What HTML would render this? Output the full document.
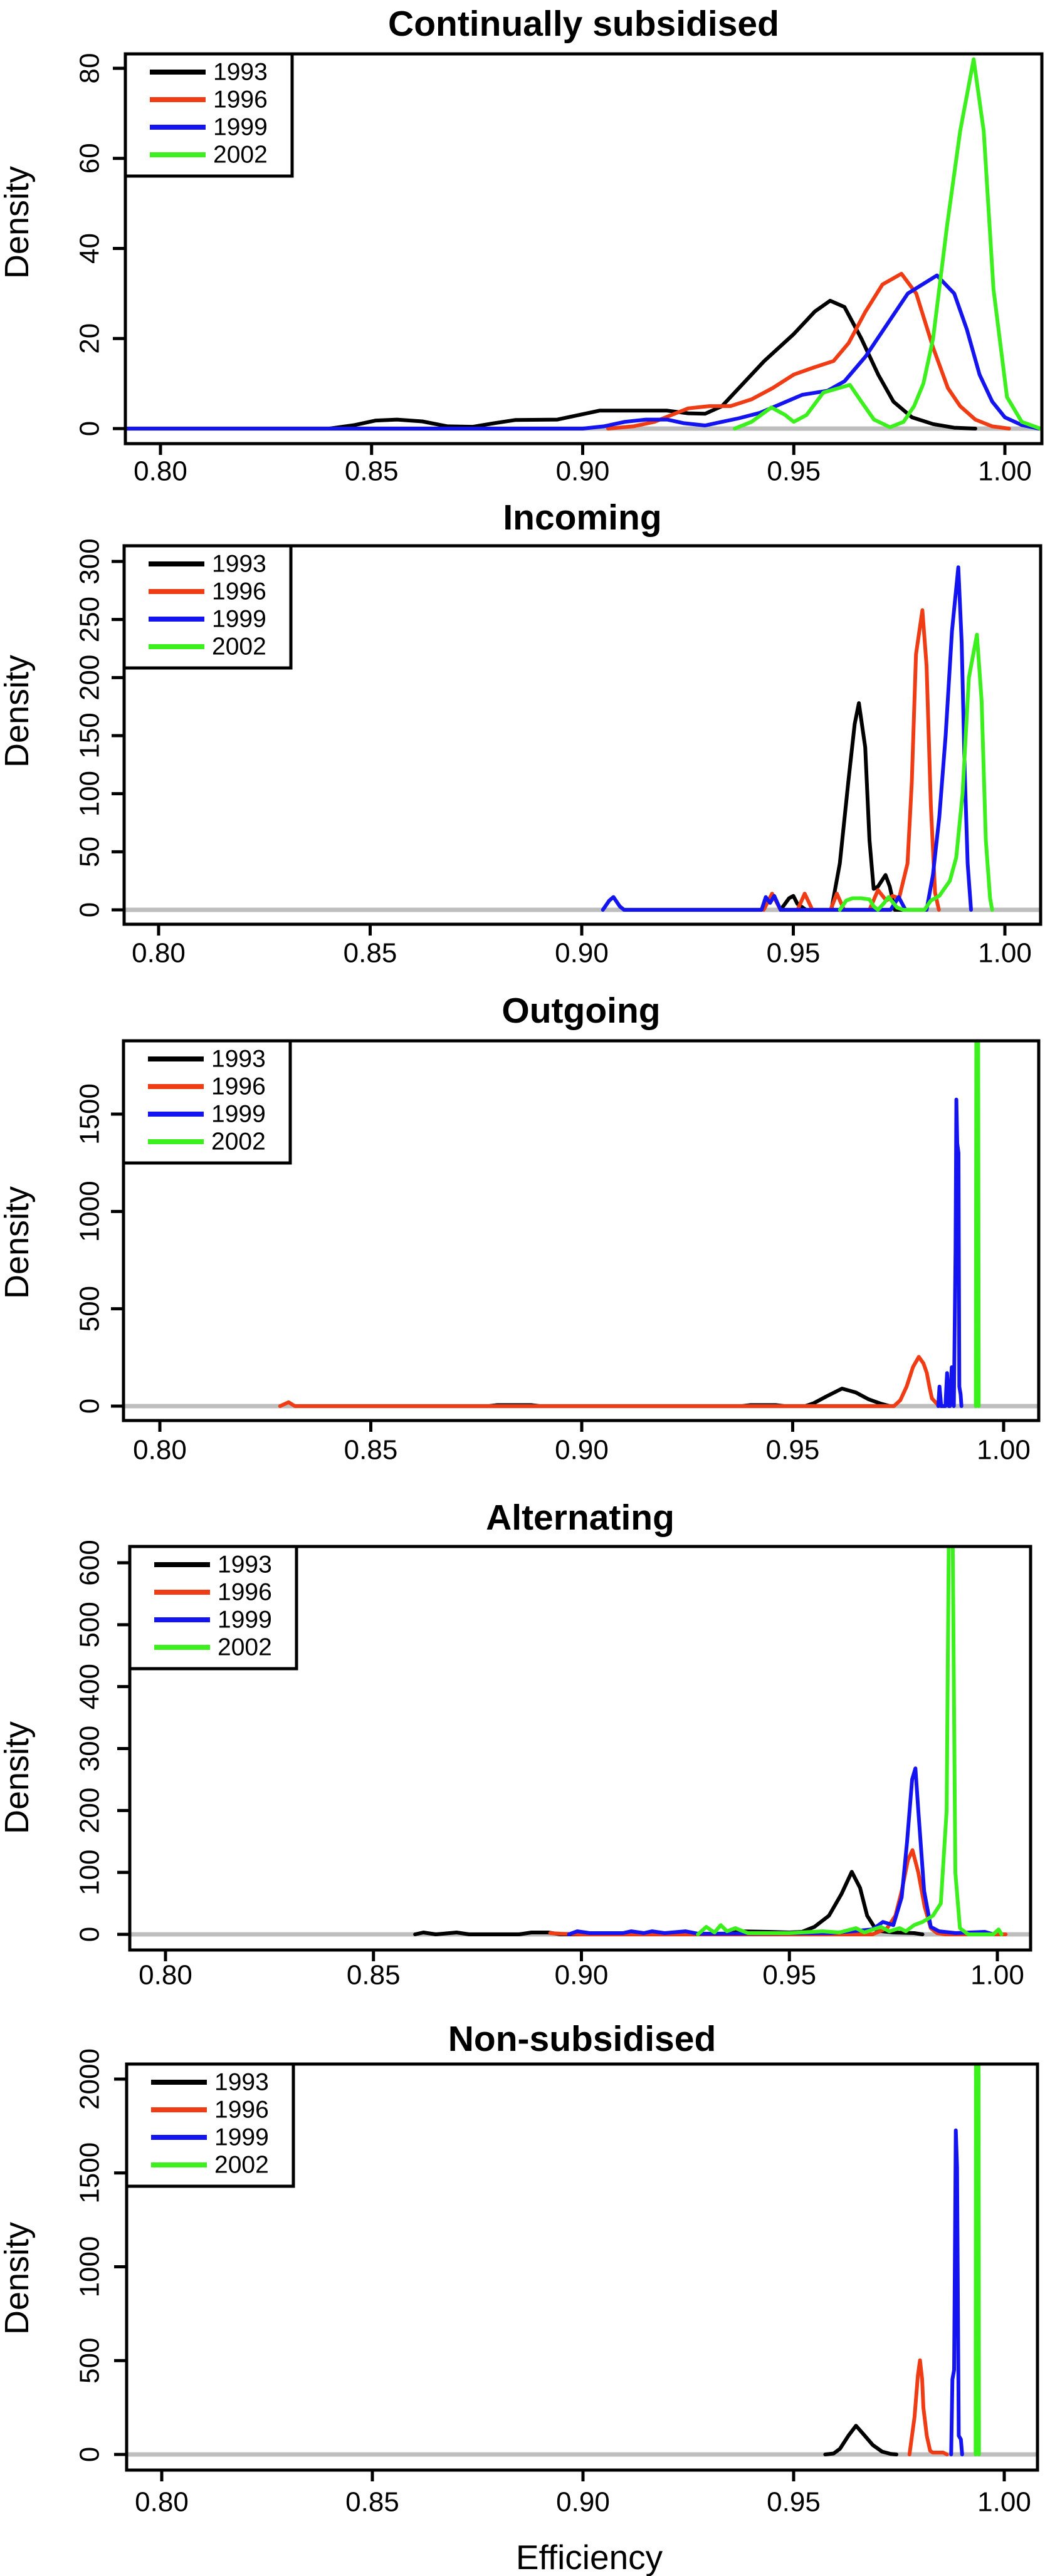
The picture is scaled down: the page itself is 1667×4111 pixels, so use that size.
<!DOCTYPE html>
<html><head><meta charset="utf-8"><title>Efficiency densities</title>
<style>
html,body{margin:0;padding:0;background:#fff;}
svg{display:block;font-family:"Liberation Sans",Arial,sans-serif;}
</style></head>
<body>
<svg id="chart" width="1667" height="4111" viewBox="0 0 1667 4111" xmlns="http://www.w3.org/2000/svg"></svg>
<script>
// ---- data (x = efficiency, y = density) ----
const panelTitles = ["Continually subsidised","Incoming","Outgoing","Alternating","Non-subsidised"];
const seriesNames = ["1993","1996","1999","2002"];
const xTicks = [0.80,0.85,0.90,0.95,1.00];
const xTickLabels = ["0.80","0.85","0.90","0.95","1.00"];
const yTicks1 = [0,20,40,60,80];
const yTicks2 = [0,50,100,150,200,250,300];
const yTicks3 = [0,500,1000,1500];
const yTicks4 = [0,100,200,300,400,500,600];
const yTicks5 = [0,500,1000,1500,2000];

const p1_1993 = [[0.79,0],[0.84,0],[0.846,0.8],[0.851,1.8],[0.856,2],[0.862,1.6],[0.868,0.5],[0.874,0.4],[0.879,1.2],[0.884,1.9],[0.894,2],[0.899,3],[0.904,4],[0.92,4],[0.925,3.4],[0.929,3.3],[0.933,5],[0.937,9],[0.943,15],[0.95,21],[0.955,26],[0.9586,28.4],[0.962,27],[0.966,20],[0.970,12],[0.9736,6],[0.978,2.5],[0.983,1],[0.988,0.2],[0.993,0]];
const p1_1996 = [[0.906,0],[0.912,0.5],[0.917,1.5],[0.921,3],[0.925,4.5],[0.93,5],[0.935,5],[0.94,6.5],[0.945,9],[0.95,12],[0.9545,13.5],[0.9594,15],[0.963,19],[0.967,26],[0.971,32],[0.9755,34.4],[0.979,30],[0.983,18],[0.9865,9],[0.9894,5],[0.993,2],[0.997,0.5],[1.001,0]];
const p1_1999 = [[0.79,0],[0.90,0],[0.905,0.5],[0.91,1.5],[0.915,2],[0.92,2],[0.924,1.2],[0.929,0.7],[0.933,1.5],[0.937,2.3],[0.942,3.5],[0.947,5.5],[0.952,7.5],[0.958,8.4],[0.962,10.5],[0.967,16],[0.972,23],[0.977,30],[0.9839,34],[0.988,30],[0.991,22],[0.994,12],[0.997,6],[1.0,2.5],[1.004,0.8],[1.008,0]];
const p1_2002 = [[0.936,0],[0.94,1.5],[0.9447,4.7],[0.948,3],[0.95,1.5],[0.953,3],[0.957,8],[0.9633,9.7],[0.966,6],[0.969,2],[0.9728,0.3],[0.976,1.5],[0.9785,5],[0.9807,10],[0.983,20],[0.9863,45],[0.9894,66],[0.9926,82],[0.995,66],[0.9973,31],[1.0005,7],[1.004,1.5],[1.0084,0]];

const p2_1993 = [[0.947,0],[0.949,10],[0.950,12],[0.951,5],[0.953,0],[0.959,0],[0.961,40],[0.963,110],[0.9645,160],[0.9655,178],[0.967,140],[0.968,60],[0.969,18],[0.970,20],[0.9718,30],[0.9728,20],[0.974,0],[0.978,0]];
const p2_1996 = [[0.943,0],[0.945,14],[0.947,0],[0.951,0],[0.9527,14],[0.9545,0],[0.9588,0],[0.9603,14],[0.962,0],[0.968,0],[0.970,17],[0.972,8],[0.9735,12],[0.975,10],[0.977,40],[0.978,110],[0.979,220],[0.9805,258],[0.9815,210],[0.9825,90],[0.9835,15],[0.9844,0]];
const p2_1999 = [[0.905,0],[0.9065,8],[0.9075,11],[0.909,3],[0.910,0],[0.9425,0],[0.9435,11],[0.9445,6],[0.9455,12],[0.947,0],[0.973,0],[0.9749,11],[0.9765,0],[0.9815,0],[0.983,30],[0.9845,80],[0.986,150],[0.9875,240],[0.989,295],[0.9898,230],[0.9905,120],[0.9912,40],[0.992,0]];
const p2_2002 = [[0.961,0],[0.9625,8],[0.964,10],[0.966,10],[0.968,9],[0.969,3],[0.970,0],[0.9715,6],[0.9725,11],[0.9745,2],[0.976,0],[0.981,0],[0.9825,8],[0.9845,12],[0.987,25],[0.9885,45],[0.990,100],[0.9915,200],[0.9934,237],[0.9945,180],[0.9955,60],[0.9965,10],[0.997,0]];

const p3_1993 = [[0.878,0],[0.88,5],[0.888,5],[0.89,0],[0.938,0],[0.94,5],[0.946,5],[0.948,0],[0.953,0],[0.955,15],[0.958,50],[0.9617,90],[0.965,70],[0.968,35],[0.971,12],[0.973,0]];
const p3_1996 = [[0.8285,0],[0.8305,20],[0.832,0],[0.974,0],[0.9755,30],[0.977,100],[0.9785,200],[0.9799,253],[0.981,220],[0.9818,170],[0.9825,90],[0.983,40],[0.9847,0]];
const p3_1999 = [[0.9845,0],[0.9848,100],[0.9852,0],[0.9862,0],[0.9866,170],[0.987,0],[0.9873,0],[0.9877,200],[0.9882,0],[0.9886,800],[0.9888,1575],[0.989,1350],[0.9893,1300],[0.9895,100],[0.9898,60],[0.990,0]];
const p3_2002 = [[0.9934,0],[0.9936,3000],[0.9939,3000],[0.9941,0]];

const p4_1993 = [[0.86,0],[0.862,3],[0.865,0],[0.87,3],[0.873,0],[0.885,0],[0.888,3],[0.892,3],[0.895,0],[0.935,0],[0.938,5],[0.945,4],[0.95,3],[0.953,4],[0.956,12],[0.9595,30],[0.9625,65],[0.965,101],[0.967,75],[0.9687,30],[0.971,6],[0.975,3],[0.98,2],[0.982,0]];
const p4_1996 = [[0.8925,2],[0.895,1],[0.90,0],[0.97,0],[0.9735,10],[0.9755,30],[0.977,70],[0.9785,120],[0.9796,136],[0.981,100],[0.9825,45],[0.984,10],[0.9855,2],[0.9875,0],[1.002,0]];
const p4_1999 = [[0.897,0],[0.899,5],[0.902,2],[0.91,2],[0.912,5],[0.915,2],[0.917,5],[0.92,2],[0.925,5],[0.928,1],[0.96,2],[0.965,5],[0.97,8],[0.9725,20],[0.975,15],[0.977,60],[0.9783,150],[0.9795,250],[0.9803,268],[0.981,200],[0.9824,70],[0.984,12],[0.986,5],[0.99,2],[0.997,4],[0.999,0]];
const p4_2002 = [[0.928,0],[0.93,12],[0.932,3],[0.9335,15],[0.935,5],[0.937,10],[0.94,2],[0.95,2],[0.958,5],[0.962,3],[0.966,10],[0.968,3],[0.972,12],[0.974,5],[0.9765,10],[0.978,5],[0.98,15],[0.982,20],[0.9845,30],[0.9864,50],[0.9878,200],[0.9884,700],[0.9892,700],[0.9899,100],[0.991,10],[0.993,0],[0.999,0],[1.0003,8],[1.001,0]];

const p5_1993 = [[0.9575,0],[0.9595,5],[0.961,30],[0.963,100],[0.9648,153],[0.9665,110],[0.9688,50],[0.971,15],[0.973,3],[0.9744,0]];
const p5_1996 = [[0.9775,0],[0.9787,200],[0.9795,420],[0.980,502],[0.9805,400],[0.9808,250],[0.9816,100],[0.9824,20],[0.983,10],[0.9855,10],[0.9864,0]];
const p5_1999 = [[0.9874,0],[0.9877,400],[0.9881,450],[0.9885,1727],[0.9888,1530],[0.9892,100],[0.9897,80],[0.990,0]];
const p5_2002 = [[0.9932,0],[0.9934,5000],[0.9938,5000],[0.994,0]];

// ---- layout (pixels) ----
const colors = ["#000000","#f03c14","#1414f0","#3cf01e"];
const layout = [
 {box:[200,86,1662,708],x80:256,x100:1603,y0:684,refV:80,refP:109,yt:yTicks1,ty:38,tl:752,dy:355,series:[p1_1993,p1_1996,p1_1999,p1_2002]},
 {box:[198,871,1660,1475],x80:253,x100:1603,y0:1452,refV:300,refP:896,yt:yTicks2,ty:826,tl:1521,dy:1135,series:[p2_1993,p2_1996,p2_1999,p2_2002]},
 {box:[197,1661,1657,2267],x80:255,x100:1601,y0:2244,refV:1500,refP:1778,yt:yTicks3,ty:1613,tl:2314,dy:1983,series:[p3_1993,p3_1996,p3_1999,p3_2002]},
 {box:[207,2468,1644,3112],x80:264,x100:1591,y0:3087,refV:600,refP:2494,yt:yTicks4,ty:2422,tl:3152,dy:2837,series:[p4_1993,p4_1996,p4_1999,p4_2002]},
 {box:[202,3294,1655,3942],x80:258,x100:1602,y0:3917,refV:2000,refP:3318,yt:yTicks5,ty:3254,tl:3993,dy:3636,series:[p5_1993,p5_1996,p5_1999,p5_2002]}
];

const NS = "http://www.w3.org/2000/svg";
const svg = document.getElementById("chart");
function mk(tag, attrs, parent){
  const e = document.createElementNS(NS, tag);
  for (const k in attrs) e.setAttribute(k, attrs[k]);
  (parent||svg).appendChild(e);
  return e;
}
const defs = mk("defs",{});

layout.forEach((L, i) => {
  const g = mk("g",{});
  
  
  const [bx0,by0,bx1,by1] = L.box;
  const xs = v => L.x80 + (v-0.8)/0.2*(L.x100-L.x80);
  const ys = v => L.y0 - v/L.refV*(L.y0-L.refP);

  const cp = mk("clipPath",{id:"clip"+i},defs);
  mk("rect",{x:bx0,y:by0,width:bx1-bx0,height:by1-by0},cp);

  const t = mk("text",{x:(bx0+bx1)/2,y:L.ty,"text-anchor":"middle","dominant-baseline":"central","font-size":57,"font-weight":"bold",fill:"#000"},g);
  t.textContent = panelTitles[i];
  
  

  const yl = mk("text",{x:27,y:L.dy,"text-anchor":"middle","dominant-baseline":"central","font-size":54,transform:`rotate(-90 27 ${L.dy})`,fill:"#000"},g);
  yl.textContent = "Density";
  
  

  const zl = mk("line",{x1:bx0,x2:bx1,y1:ys(0),y2:ys(0),stroke:"#bebebe","stroke-width":7},g);
  
  

  L.series.forEach((pts, s) => {
    const d = pts.map((p,k)=>(k?"L":"M")+xs(p[0]).toFixed(1)+","+ys(p[1]).toFixed(1)).join("");
    const path = mk("path",{d:d,fill:"none",stroke:colors[s],"stroke-width":6,"stroke-linejoin":"round","stroke-linecap":"round","clip-path":`url(#clip${i})`},g);
    
    
  });

  const box = mk("rect",{x:bx0,y:by0,width:bx1-bx0,height:by1-by0,fill:"none",stroke:"#000","stroke-width":5},g);
  
  

  xTicks.forEach((v,k) => {
    const x = xs(v);
    const tk = mk("line",{x1:x,x2:x,y1:by1,y2:by1+18,stroke:"#000","stroke-width":5},g);
    
    
    const tx = mk("text",{x:x,y:L.tl,"text-anchor":"middle","dominant-baseline":"central","font-size":44,fill:"#000"},g);
    tx.textContent = xTickLabels[k];
    
    
  });
  L.yt.forEach(v => {
    const y = ys(v);
    const tk = mk("line",{x1:bx0-20,x2:bx0,y1:y,y2:y,stroke:"#000","stroke-width":5},g);
    
    
    const tx = mk("text",{x:143,y:y,"text-anchor":"middle","dominant-baseline":"central","font-size":44,transform:`rotate(-90 143 ${y})`,fill:"#000"},g);
    tx.textContent = String(v);
    
    
  });

  const lg = mk("g",{},g);
  
  
  mk("rect",{x:bx0,y:by0,width:266,height:195,fill:"#fff",stroke:"#000","stroke-width":5},lg);
  seriesNames.forEach((nm,s) => {
    const ly = by0 + 29 + s*44;
    const ent = mk("g",{},lg);
    
    
    mk("line",{x1:bx0+39,x2:bx0+128,y1:ly,y2:ly,stroke:colors[s],"stroke-width":8},ent);
    const lt = mk("text",{x:bx0+140,y:ly,"dominant-baseline":"central","font-size":39,fill:"#000"},ent);
    lt.textContent = nm;
  });
});

const xl = mk("text",{x:940,y:4081,"text-anchor":"middle","dominant-baseline":"central","font-size":55,fill:"#000"});
xl.textContent = "Efficiency";


</script>
</body></html>
